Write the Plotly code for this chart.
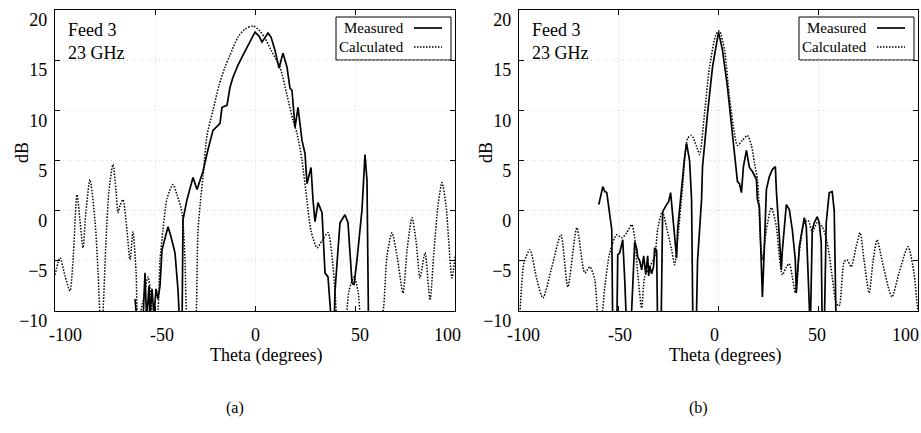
import plotly.graph_objects as go

W, H = 921, 433

# (a) calculated pattern
a_calc_theta = [-100, -97.5, -95, -92.5, -91, -89, -87.5, -86, -84.5, -82.5, -80, -78.5, -77, -76,
                -74.5, -73, -71, -69.5, -68.5, -67.5, -66, -64, -62.5, -61, -59.5, -58.5, -56,
                -53.5, -52, -51, -49, -47.5, -46, -44, -41, -39, -36.5, -35, -34, -31, -29.5,
                -28.5, -27, -26, -24, -21, -18, -15, -12.5, -8.5, -5, -1, 2, 5, 8, 12.5, 16, 19,
                21, 23.5, 26, 28, 31, 33.5, 36.5, 38.5, 40, 41, 44, 47, 49.5, 51.5, 53, 58, 62,
                64, 66, 68.5, 71, 74, 76, 78.5, 80.5, 82.5, 85, 87.5, 89.5, 91.5, 93.5, 95.5,
                98.5, 100]
a_calc_db = [-6.4, -4.7, -6.5, -8, -5, 1.6, -1, -3.7, 0, 3.1, -1, -6, -12, -10,
             -3, 2, 4.6, 2, -0.2, 0.5, 1.1, -2, -4.9, -2.1, -6, -11, -9,
             -6.6, -8.5, -12, -11, -5, -1.9, 1.2, 2.6, 1.6, -0.2, -5, -11, -14, -11,
             -2, 1.5, 3.4, 7.5, 10, 12.5, 14.3, 15.5, 17.3, 18.1, 18.4, 18.0, 17.2, 16, 14.3, 11.5, 9,
             7.7, 5, 1, -2, -3.7, -3, -2.2, -4.5, -8, -11, -14, -8, -6.6, -8, -11, -14, -11,
             -10, -4.5, -2.2, -4.5, -8.2, -4, -0.7, -3, -6.7, -4.2, -8.9, -4, 0.5, 2.8, 0.5,
             -6.7, -4.6]

# (a) measured pattern
a_meas_theta = [-60, -59, -56, -55.5, -55, -54.2, -53, -52.5, -51.5, -50.5, -49.5, -48.5, -47.5,
                -46.5, -45.5, -43.5, -42, -40, -38.5, -37.5, -36.5, -36, -34, -31.5, -31, -29,
                -26, -23.5, -21, -17.5, -16.5, -14, -12.5, -11, -8.5, -6, -3.5, -1.5, 0, 2, 3.5,
                6.5, 8, 10, 12, 14, 16, 17.5, 18.5, 20, 21.5, 23.5, 25, 26, 28, 29, 30, 31.5,
                33.5, 35, 36.5, 38.5, 39.5, 40, 42.5, 45, 46.5, 48.5, 49.5, 51, 53.5, 55, 56, 56.8]
a_meas_db = [-8.8, -11, -11, -8, -6.2, -11, -7.5, -10.5, -7.8, -10.5, -7.8, -8.8, -7.5,
             -3.9, -3.2, -1.6, -2.6, -4.2, -7.9, -12, -12, -0.9, 1.1, 3.1, 3.3, 2.1,
             3.9, 6.1, 8, 8.7, 10.3, 10.5, 12.3, 13.3, 14.5, 15.5, 16.5, 17.2, 17.8, 17.4, 16.8,
             17.7, 17.3, 16, 14.2, 15.7, 14.3, 12.2, 12, 8.3, 10.3, 7, 5.7, 2.7, 4.3, 1.1, -1.1, 0.8,
             -0.2, -6.2, -6.6, -12, -12, -8, -1.2, -0.4, -1.2, -7.2, -7.4, -4.9, 0.1, 5.6, 3, -12]

# (b) calculated pattern
b_calc_theta = [-100, -99.5, -97.5, -94.5, -91, -88, -83.5, -79, -75.5, -71, -67, -64.5, -62, -60,
                -59, -57, -54.5, -51, -48.5, -46, -43.5, -42, -40.5, -38.5, -37, -34.5, -32,
                -30.5, -28.5, -28, -26, -23.5, -22, -20.5, -18, -15.5, -13.5, -11, -9.5, -7,
                -4.5, -1, 0.5, 3, 5.5, 8, 9.5, 12, 14.5, 16.5, 18, 19.5, 20, 21, 22, 24, 26.5,
                29, 30.5, 32, 34, 35.5, 37, 38.5, 40.5, 43, 45, 47, 49.5, 52, 54.5, 57, 59,
                60.5, 63, 64.5, 66.5, 69, 71, 73, 75.5, 77.5, 79.5, 82, 85.5, 87, 90.5, 95, 98,
                99.5, 100]
b_calc_db = [-11, -10, -5.2, -3.9, -6.9, -8.7, -5.6, -2.4, -7.6, -1.7, -6.2, -5.6, -6.9, -11,
             -11, -7.6, -4.2, -2.4, -2.7, -2.2, -1.4, -2.7, -6.2, -9.7, -6.6, -5.6, -4.6,
             -1.9, -0.2, -0.1, -1.7, -3.9, -5.4, -3, 2.4, 7.2, 7.5, 6.4, 5.6, 9.7,
             14.3, 17.7, 17.9, 16, 11.3, 7.7, 6.5, 7, 7.5, 6.5, 4.8, 3.1, 1.8, -2.9, -4.9, -1.9, 0.3,
             -1.6, -4.6, -6.4, -5.6, -5.3, -6.6, -8.2, -4.2, -1.2, -1.0, -2.1, -1.2, -1.6, -3.2, -6.6, -9.2,
             -9.5, -5.1, -4.9, -5.6, -3.6, -2.2, -5, -8.2, -5, -2.9, -5, -7.9, -8.6, -6.2, -3.6, -6.2,
             -9.2, -10]

# (b) measured pattern
b_meas_theta = [-60, -58, -57, -56, -53.5, -53, -51, -50.5, -49.5, -48, -47, -46, -44, -42, -41,
                -40.5, -39.5, -38.5, -37.5, -36.5, -35.5, -35, -34.5, -33.5, -32.5, -32, -31,
                -30.5, -28.8, -28, -26, -25, -24, -23, -21, -20.5, -19, -18, -17, -16, -14.5,
                -13.5, -12.8, -11.2, -10.5, -8.5, -8, -5.5, -3, 0, 2, 4.5, 6.5, 8, 9.5, 10.5,
                11.5, 12.5, 14, 15.5, 17, 19, 19.5, 20.5, 21.5, 22, 23, 24, 25.5, 27, 28.5, 29,
                30.5, 31.5, 32, 34, 35.5, 37, 38.5, 39, 40.5, 43, 44, 45.5, 46, 47, 48, 49.5,
                50.5, 51.5, 52, 53, 54, 55.5, 57, 58, 59]
b_meas_db = [0.6, 2.4, 1.9, 1.8, -1.9, -12, -12, -4.4, -4.2, -2.9, -6.9, -12, -12, -3.1, -3.8,
             -4.6, -5, -5.9, -4.5, -6.3, -4.5, -6.5, -5.5, -6.3, -5.5, -3.7, -4,
             -12, -12, -0.1, 0.6, 0.9, 1.8, -0.2, -4.7, -1.9, 1.1, 3.5, 5.3, 6.7, 5,
             1.1, -12, -12, -5, 1.1, 4.4, 9.7, 14.3, 17.8, 16, 12.3, 8.3, 5.7, 2.9, 2.7,
             1.8, 4.4, 6, 4.3, 3.9, 3.1, 1.1, 0.4, -6.9, -8.6, -3.6, 2.1, 3.4, 4.1, 4.4, 2,
             -2.6, -5.9, -4, 0.6, 0.1, -1.9, -4.9, -8.2, -3.6, -0.7, -1.6, -12, -12, -1.9, -1.2, -0.6,
             -1.2, -3.2, -12, -12, -1.2, 1.8, 1.9, 0, -12]

x_ticks = [-100, -50, 0, 50, 100]
y_ticks = [-10, -5, 0, 5, 10, 15, 20]
panel_labels = ['(a)', '(b)']
legend_names = ['Measured', 'Calculated']
info_text = 'Feed 3<br>23 GHz'

FONT = 'Liberation Serif, Times New Roman, serif'
DOTS = '1.5px,1.5px'

# pixel boxes of the two panels: left, right, top, bottom
panels = [(55, 455, 10, 311), (519, 918, 10, 311)]
# the original's x tick labels sit a little off their ticks (px, + is right)
label_nudge = [[10, 7, 0, 5, -8], [4, 1, -4, -1, -13]]
title_nudge = [11, 6]


def px(x, y):
    return x / W, 1 - y / H


def text_font(size=18):
    return dict(family=FONT, size=size, color='black')


def axis_style(domain, anchor, ticks):
    return dict(
        domain=domain, anchor=anchor, tickvals=ticks,
        showgrid=True, gridcolor='#d4d4d4', griddash='1px,3px', gridwidth=1,
        zeroline=False, showline=True, linecolor='black', linewidth=1.2, mirror='ticks',
        ticks='inside', ticklen=5, tickcolor='black', automargin=False, ticklabeloverflow='allow',
        tickfont=text_font(),
    )


def build():
    fig = go.Figure()
    data = [(a_meas_theta, a_meas_db, a_calc_theta, a_calc_db),
            (b_meas_theta, b_meas_db, b_calc_theta, b_calc_db)]
    shapes, annotations = [], []
    for i, (mt, md, ct, cd) in enumerate(data):
        xa = 'x' if i == 0 else 'x2'
        ya = 'y' if i == 0 else 'y2'
        fig.add_trace(go.Scatter(x=ct, y=cd, xaxis=xa, yaxis=ya, mode='lines', name=legend_names[1],
                                 line=dict(color='black', width=1.5, dash=DOTS, shape='spline', smoothing=0.7),
                                 showlegend=False, hoverinfo='skip'))
        fig.add_trace(go.Scatter(x=mt, y=md, xaxis=xa, yaxis=ya, mode='lines', name=legend_names[0],
                                 line=dict(color='black', width=1.7), showlegend=False, hoverinfo='skip'))

        left, right, top, bottom = panels[i]
        xdom = [left / W, right / W]
        ydom = [1 - bottom / H, 1 - top / H]
        sfx = '' if i == 0 else '2'
        xax = axis_style(xdom, ya, x_ticks)
        xax.update(range=[-100, 100], showticklabels=False)
        yax = axis_style(ydom, xa, y_ticks)
        yax.update(range=[-10, 20], ticklabelshift=10, ticklabelstandoff=3)
        fig.update_layout(**{'xaxis' + sfx: xax, 'yaxis' + sfx: yax})

        # x tick labels, placed on the axis scale with the original's small offsets
        _, ly = px(0, 335)
        for t, s in zip(x_ticks, label_nudge[i]):
            annotations.append(dict(x=t, y=ly, xref=xa, yref='paper', text=str(t), showarrow=False,
                                    xanchor='center', yanchor='middle', xshift=s, font=text_font()))
        # axis titles
        tx, ty = px((left + right) / 2 + title_nudge[i], 355)
        annotations.append(dict(x=tx, y=ty, xref='paper', yref='paper', text='Theta (degrees)',
                                showarrow=False, xanchor='center', yanchor='middle', font=text_font()))
        tx, ty = px(left - 33, 153)
        annotations.append(dict(x=tx, y=ty, xref='paper', yref='paper', text='dB', showarrow=False,
                                textangle=-90, xanchor='center', yanchor='middle', font=text_font()))
        # info text
        x0, y0 = px(left + 11, top + 8)
        annotations.append(dict(x=x0, y=y0, xref='paper', yref='paper', text=info_text, showarrow=False,
                                xanchor='left', yanchor='top', align='left', font=text_font()))
        # legend box drawn on the right like the original
        bx0, by0 = px(right - 119, top + 7)
        bx1, by1 = px(right - 4, top + 50)
        shapes.append(dict(type='rect', xref='paper', yref='paper', x0=bx0, y0=by0, x1=bx1, y1=by1,
                           line=dict(color='black', width=1), fillcolor='white', layer='below'))
        for j, (name, dash) in enumerate(zip(legend_names, ['solid', DOTS])):
            ly = top + 18 + j * 19
            tx, ty = px(right - 49, ly)
            annotations.append(dict(x=tx, y=ty, xref='paper', yref='paper', text=name, showarrow=False,
                                    xanchor='right', yanchor='middle', font=text_font(15)))
            lx0, lyp = px(right - 41, ly)
            lx1, _ = px(right - 13, ly)
            shapes.append(dict(type='line', xref='paper', yref='paper', x0=lx0, x1=lx1, y0=lyp, y1=lyp,
                               line=dict(color='black', width=1.5 if j else 1.7, dash=dash)))
        # panel label
        cx, cy = px((left + right) / 2 - 20, 408)
        annotations.append(dict(x=cx, y=cy, xref='paper', yref='paper', text=panel_labels[i], showarrow=False,
                                xanchor='center', yanchor='middle', font=text_font(16)))

    fig.update_layout(width=W, height=H, margin=dict(l=0, r=0, t=0, b=0),
                      plot_bgcolor='white', paper_bgcolor='white',
                      shapes=shapes, annotations=annotations, showlegend=False)
    return fig


def main():
    fig = build()
    # drop the default page margin so the figure sits at the window's corner
    fig.write_html('out.html', config={'displayModeBar': False},
                   post_script="document.body.style.margin='0';")


if __name__ == '__main__':
    main()
